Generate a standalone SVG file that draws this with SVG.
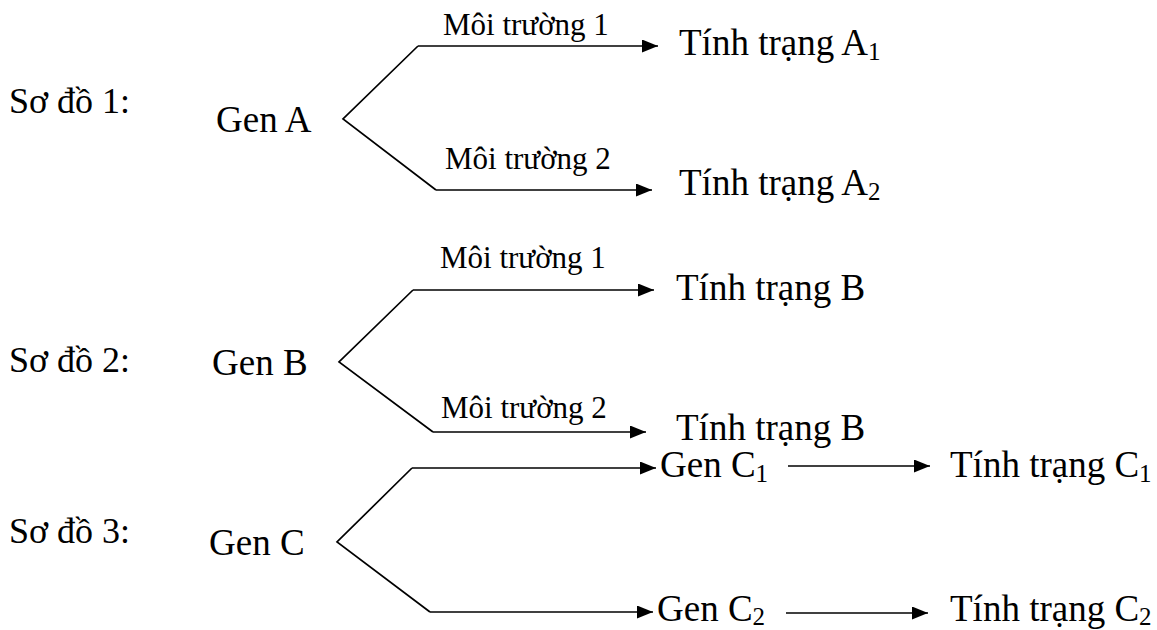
<svg xmlns="http://www.w3.org/2000/svg" width="1157" height="630" viewBox="0 0 1157 630">
<style>
text{font-family:"Liberation Serif","Times New Roman",serif;fill:#000}
.t{font-size:37px}
.h{font-size:36px}
.s{font-size:25px}
.m{font-size:31px}
.c{fill:none;stroke:#000;stroke-width:1.7}
</style>
<defs>
<marker id="ah" markerUnits="userSpaceOnUse" markerWidth="17" markerHeight="13" refX="16" refY="6.5" orient="auto">
<path d="M0,0 L16,6.5 L0,13 z" fill="#000"/>
</marker>
</defs>
<rect width="1157" height="630" fill="#fff"/>
<g id="connectors">
<path class="c" d="M418,46 L343,119 L436,190"/>
<line class="c" x1="418" y1="46" x2="658" y2="46" marker-end="url(#ah)"/>
<line class="c" x1="436" y1="190" x2="652" y2="190" marker-end="url(#ah)"/>
<path class="c" d="M413,290 L339,362 L433,432"/>
<line class="c" x1="413" y1="290" x2="654" y2="290" marker-end="url(#ah)"/>
<line class="c" x1="433" y1="432" x2="646" y2="432" marker-end="url(#ah)"/>
<path class="c" d="M412,468 L337,542 L430,612"/>
<line class="c" x1="412" y1="468" x2="656" y2="468" marker-end="url(#ah)"/>
<line class="c" x1="430" y1="612" x2="653" y2="612" marker-end="url(#ah)"/>
<line class="c" x1="788" y1="466" x2="930" y2="466" marker-end="url(#ah)"/>
<line class="c" x1="786" y1="613" x2="928" y2="613" marker-end="url(#ah)"/>
</g>
<g id="labels">
<text class="m" x="443" y="35">Môi trường 1</text>
<text class="m" x="445" y="169">Môi trường 2</text>
<text class="m" x="440" y="268">Môi trường 1</text>
<text class="m" x="441" y="418">Môi trường 2</text>
</g>
<g id="titles">
<text class="h" x="9" y="113">Sơ đồ 1:</text>
<text class="h" x="9" y="372">Sơ đồ 2:</text>
<text class="h" x="9" y="543">Sơ đồ 3:</text>
</g>
<g id="gen-a"><text class="t" x="216" y="132">Gen A</text></g>
<g id="tinh-trang-a1"><text class="t" x="679" y="55">Tính trạng A<tspan class="s" dy="5">1</tspan></text></g>
<g id="tinh-trang-a2"><text class="t" x="679" y="195">Tính trạng A<tspan class="s" dy="5">2</tspan></text></g>
<g id="gen-b"><text class="t" x="212" y="375">Gen B</text></g>
<g id="tinh-trang-b1"><text class="t" x="676" y="300">Tính trạng B</text></g>
<g id="tinh-trang-b2"><text class="t" x="676" y="440">Tính trạng B</text></g>
<g id="gen-c"><text class="t" x="209" y="555">Gen C</text></g>
<g id="gen-c1"><text class="t" x="660" y="477">Gen C<tspan class="s" dy="5">1</tspan></text></g>
<g id="gen-c2"><text class="t" x="657" y="621">Gen C<tspan class="s" dy="4">2</tspan></text></g>
<g id="tinh-trang-c1"><text class="t" x="950" y="477">Tính trạng C<tspan class="s" dy="5">1</tspan></text></g>
<g id="tinh-trang-c2"><text class="t" x="950" y="621">Tính trạng C<tspan class="s" dy="4">2</tspan></text></g>
</svg>
